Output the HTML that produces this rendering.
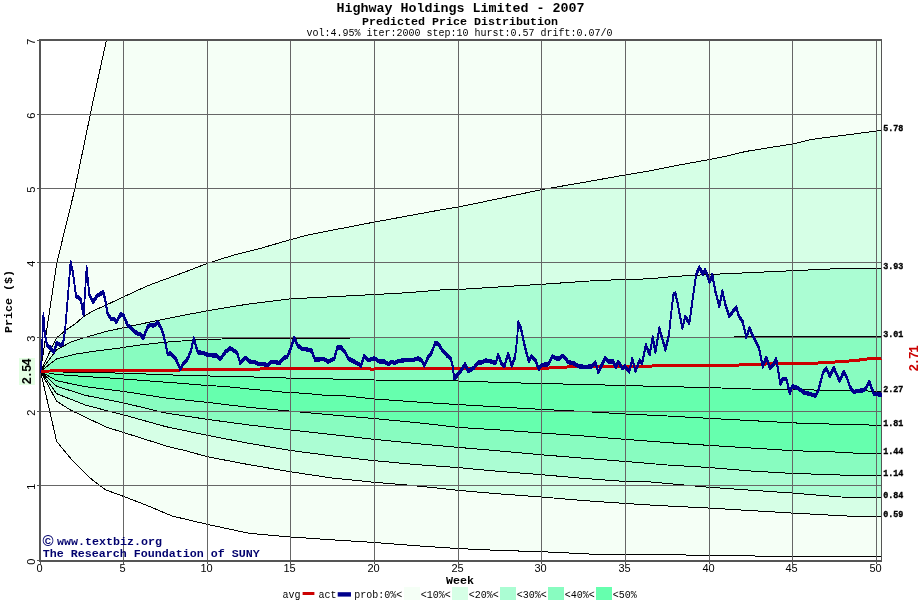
<!DOCTYPE html>
<html lang="en"><head><meta charset="utf-8"><title>Highway Holdings Limited - 2007</title>
<style>html,body{margin:0;padding:0;background:#fff}svg{display:block}.m{font-family:"Liberation Mono",monospace}.s{font-family:"Liberation Sans",sans-serif}</style></head><body>
<svg width="920" height="600" viewBox="0 0 920 600">
<rect width="920" height="600" fill="#fff"/>
<defs><clipPath id="c"><rect x="40" y="40" width="842" height="521"/></clipPath></defs>
<g clip-path="url(#c)">
<polygon points="40.5,371.3 56.7,263.3 75.0,188.3 93.3,100.0 106.5,40.0 111.0,19.0 111.0,30.0 890.0,30.0 890.0,130.4 882.0,130.4 830.0,137.0 812.0,139.4 792.8,143.9 746.0,151.4 725.0,156.5 709.4,159.5 680.0,164.9 650.0,170.8 625.6,174.9 580.0,183.0 541.6,189.6 499.0,198.6 458.5,207.0 440.0,210.0 408.0,215.9 374.7,222.0 333.3,230.0 306.7,235.3 290.7,239.6 261.3,248.1 234.7,254.8 207.5,263.3 185.0,272.0 155.0,283.0 147.0,286.0 124.0,296.6 105.0,305.6 95.0,310.0 85.0,315.5 75.0,324.0 66.0,330.0 56.6,337.8 40.5,371.3" fill="#f5fff6"/>
<polygon points="40.5,371.3 56.6,337.8 66.0,330.0 75.0,324.0 85.0,315.5 95.0,310.0 105.0,305.6 124.0,296.6 147.0,286.0 155.0,283.0 185.0,272.0 207.5,263.3 234.7,254.8 261.3,248.1 290.7,239.6 306.7,235.3 333.3,230.0 374.7,222.0 408.0,215.9 440.0,210.0 458.5,207.0 499.0,198.6 541.6,189.6 580.0,183.0 625.6,174.9 650.0,170.8 680.0,164.9 709.4,159.5 725.0,156.5 746.0,151.4 792.8,143.9 812.0,139.4 830.0,137.0 882.0,130.4 882.0,268.1 830.0,269.0 780.0,271.3 720.0,274.0 709.9,274.6 688.7,275.5 669.0,276.9 649.6,278.8 625.5,279.5 596.8,280.5 569.4,282.4 541.6,284.3 458.5,289.5 440.0,290.0 408.0,292.7 374.7,294.5 333.0,296.7 290.7,298.8 248.0,304.1 207.5,310.8 185.0,315.0 155.0,321.0 124.0,327.6 106.0,331.5 85.0,337.5 71.0,342.0 56.5,350.0 40.5,371.3" fill="#d6ffe6"/>
<polygon points="40.5,371.3 56.5,350.0 71.0,342.0 85.0,337.5 106.0,331.5 124.0,327.6 155.0,321.0 185.0,315.0 207.5,310.8 248.0,304.1 290.7,298.8 333.0,296.7 374.7,294.5 408.0,292.7 440.0,290.0 458.5,289.5 541.6,284.3 569.4,282.4 596.8,280.5 625.5,279.5 649.6,278.8 669.0,276.9 688.7,275.5 709.9,274.6 720.0,274.0 780.0,271.3 830.0,269.0 882.0,268.1 882.0,336.5 734.5,336.5 734.0,337.5 349.5,337.5 349.0,338.5 235.0,338.6 221.7,339.0 195.0,340.0 168.3,342.0 141.7,344.7 115.0,348.7 96.0,351.0 76.0,354.0 56.5,359.0 40.5,371.3" fill="#abfdd3"/>
<polygon points="40.5,371.3 56.5,359.0 76.0,354.0 96.0,351.0 115.0,348.7 141.7,344.7 168.3,342.0 195.0,340.0 221.7,339.0 235.0,338.6 349.0,338.5 349.5,337.5 734.0,337.5 734.5,336.5 882.0,336.5 882.0,391.3 834.7,390.3 793.0,389.7 751.0,389.0 709.4,387.6 667.4,386.6 625.6,385.6 583.6,384.4 541.6,383.6 500.0,382.4 458.5,381.0 416.6,380.4 374.6,380.0 332.6,379.0 299.0,378.5 267.0,377.3 232.0,376.5 183.0,375.4 149.0,374.1 115.0,373.0 56.7,371.9 40.5,371.3" fill="#88fcc0"/>
<polygon points="40.5,371.3 56.7,371.9 115.0,373.0 149.0,374.1 183.0,375.4 232.0,376.5 267.0,377.3 299.0,378.5 332.6,379.0 374.6,380.0 416.6,380.4 458.5,381.0 500.0,382.4 541.6,383.6 583.6,384.4 625.6,385.6 667.4,386.6 709.4,387.6 751.0,389.0 793.0,389.7 834.7,390.3 882.0,391.3 882.0,425.3 834.7,424.2 793.0,422.9 751.0,420.6 709.4,418.4 667.4,416.0 625.6,414.0 583.6,411.5 541.6,409.4 500.0,407.0 458.5,404.6 416.6,402.0 374.6,399.0 345.0,395.9 333.0,395.6 321.5,395.0 312.0,394.0 299.0,393.0 282.0,392.0 267.0,390.5 255.0,389.6 225.0,386.5 206.0,385.4 183.0,383.5 149.0,380.9 115.0,378.3 86.0,376.6 56.7,374.5 40.5,371.3" fill="#66ffae"/>
<polygon points="40.5,371.3 56.7,374.5 86.0,376.6 115.0,378.3 149.0,380.9 183.0,383.5 206.0,385.4 225.0,386.5 255.0,389.6 267.0,390.5 282.0,392.0 299.0,393.0 312.0,394.0 321.5,395.0 333.0,395.6 345.0,395.9 374.6,399.0 416.6,402.0 458.5,404.6 500.0,407.0 541.6,409.4 583.6,411.5 625.6,414.0 667.4,416.0 709.4,418.4 751.0,420.6 793.0,422.9 834.7,424.2 882.0,425.3 882.0,453.4 860.0,453.4 834.7,452.0 793.0,450.7 751.0,448.0 709.4,445.4 667.4,442.6 625.6,439.4 583.6,436.0 541.6,433.0 500.0,430.0 458.5,427.4 416.6,422.6 374.6,418.6 332.6,415.0 291.0,411.2 249.2,407.4 207.6,402.4 165.6,398.0 124.0,391.5 86.0,386.8 56.7,380.8 40.5,371.3" fill="#66ffae"/>
<polygon points="40.5,371.3 56.7,380.8 86.0,386.8 124.0,391.5 165.6,398.0 207.6,402.4 249.2,407.4 291.0,411.2 332.6,415.0 374.6,418.6 416.6,422.6 458.5,427.4 500.0,430.0 541.6,433.0 583.6,436.0 625.6,439.4 667.4,442.6 709.4,445.4 751.0,448.0 793.0,450.7 834.7,452.0 860.0,453.4 882.0,453.4 882.0,475.8 852.0,475.8 834.7,474.7 793.0,473.5 751.0,471.0 709.4,467.5 667.4,465.0 625.6,461.5 583.6,458.2 541.6,454.8 500.0,451.0 458.5,447.4 416.6,443.6 374.6,439.4 332.6,434.6 291.0,430.0 249.2,425.0 207.6,419.4 165.6,413.0 124.0,403.0 86.0,395.5 56.7,386.3 40.5,371.3" fill="#88fcc0"/>
<polygon points="40.5,371.3 56.7,386.3 86.0,395.5 124.0,403.0 165.6,413.0 207.6,419.4 249.2,425.0 291.0,430.0 332.6,434.6 374.6,439.4 416.6,443.6 458.5,447.4 500.0,451.0 541.6,454.8 583.6,458.2 625.6,461.5 667.4,465.0 709.4,467.5 751.0,471.0 793.0,473.5 834.7,474.7 852.0,475.8 882.0,475.8 882.0,497.5 840.8,497.0 793.0,493.1 709.6,487.3 650.0,481.9 625.6,481.5 583.6,478.4 541.6,474.7 500.0,471.5 458.5,467.6 416.6,464.6 374.6,460.7 332.6,456.0 291.0,450.5 249.2,443.4 207.6,435.4 165.6,426.6 124.0,415.0 86.0,405.3 56.7,393.7 40.5,371.3" fill="#abfdd3"/>
<polygon points="40.5,371.3 56.7,393.7 86.0,405.3 124.0,415.0 165.6,426.6 207.6,435.4 249.2,443.4 291.0,450.5 332.6,456.0 374.6,460.7 416.6,464.6 458.5,467.6 500.0,471.5 541.6,474.7 583.6,478.4 625.6,481.5 650.0,481.9 709.6,487.3 793.0,493.1 840.8,497.0 882.0,497.5 882.0,516.3 852.5,516.3 793.0,513.1 709.6,508.1 660.0,505.6 625.6,503.5 581.7,500.4 541.6,497.0 498.3,493.8 458.6,490.4 440.0,488.3 406.0,484.9 374.3,482.3 330.4,477.8 290.8,471.8 249.6,464.8 207.6,456.8 186.0,450.8 165.6,446.0 152.7,441.7 123.5,432.5 106.0,427.0 71.0,410.3 56.7,401.3 40.5,371.3" fill="#d6ffe6"/>
<polygon points="40.5,371.3 56.7,401.3 71.0,410.3 106.0,427.0 123.5,432.5 152.7,441.7 165.6,446.0 186.0,450.8 207.6,456.8 249.6,464.8 290.8,471.8 330.4,477.8 374.3,482.3 406.0,484.9 440.0,488.3 458.6,490.4 498.3,493.8 541.6,497.0 581.7,500.4 625.6,503.5 660.0,505.6 709.6,508.1 793.0,513.1 852.5,516.3 882.0,516.3 882.0,556.5 767.0,556.2 701.0,555.2 660.0,554.7 602.6,554.7 581.7,553.6 541.6,551.7 498.3,550.4 458.6,548.6 420.0,546.0 374.3,542.5 330.4,539.7 290.8,537.0 249.6,533.4 207.6,524.4 172.0,516.0 146.0,505.0 123.6,496.4 106.0,490.0 90.0,478.0 72.0,460.0 56.7,441.5 40.5,371.3" fill="#f5fff6"/>
<polyline points="40.5,371.3 56.7,263.3 75.0,188.3 93.3,100.0 106.5,40.0 111.0,19.0" fill="none" stroke="#000" stroke-width="1" shape-rendering="crispEdges"/>
<polyline points="40.5,371.3 56.6,337.8 66.0,330.0 75.0,324.0 85.0,315.5 95.0,310.0 105.0,305.6 124.0,296.6 147.0,286.0 155.0,283.0 185.0,272.0 207.5,263.3 234.7,254.8 261.3,248.1 290.7,239.6 306.7,235.3 333.3,230.0 374.7,222.0 408.0,215.9 440.0,210.0 458.5,207.0 499.0,198.6 541.6,189.6 580.0,183.0 625.6,174.9 650.0,170.8 680.0,164.9 709.4,159.5 725.0,156.5 746.0,151.4 792.8,143.9 812.0,139.4 830.0,137.0 882.0,130.4" fill="none" stroke="#000" stroke-width="1" shape-rendering="crispEdges"/>
<polyline points="40.5,371.3 56.5,350.0 71.0,342.0 85.0,337.5 106.0,331.5 124.0,327.6 155.0,321.0 185.0,315.0 207.5,310.8 248.0,304.1 290.7,298.8 333.0,296.7 374.7,294.5 408.0,292.7 440.0,290.0 458.5,289.5 541.6,284.3 569.4,282.4 596.8,280.5 625.5,279.5 649.6,278.8 669.0,276.9 688.7,275.5 709.9,274.6 720.0,274.0 780.0,271.3 830.0,269.0 882.0,268.1" fill="none" stroke="#000" stroke-width="1" shape-rendering="crispEdges"/>
<polyline points="40.5,371.3 56.5,359.0 76.0,354.0 96.0,351.0 115.0,348.7 141.7,344.7 168.3,342.0 195.0,340.0 221.7,339.0 235.0,338.6 349.0,338.5 349.5,337.5 734.0,337.5 734.5,336.5 882.0,336.5" fill="none" stroke="#000" stroke-width="1" shape-rendering="crispEdges"/>
<polyline points="40.5,371.3 56.7,371.9 115.0,373.0 149.0,374.1 183.0,375.4 232.0,376.5 267.0,377.3 299.0,378.5 332.6,379.0 374.6,380.0 416.6,380.4 458.5,381.0 500.0,382.4 541.6,383.6 583.6,384.4 625.6,385.6 667.4,386.6 709.4,387.6 751.0,389.0 793.0,389.7 834.7,390.3 882.0,391.3" fill="none" stroke="#000" stroke-width="1" shape-rendering="crispEdges"/>
<polyline points="40.5,371.3 56.7,374.5 86.0,376.6 115.0,378.3 149.0,380.9 183.0,383.5 206.0,385.4 225.0,386.5 255.0,389.6 267.0,390.5 282.0,392.0 299.0,393.0 312.0,394.0 321.5,395.0 333.0,395.6 345.0,395.9 374.6,399.0 416.6,402.0 458.5,404.6 500.0,407.0 541.6,409.4 583.6,411.5 625.6,414.0 667.4,416.0 709.4,418.4 751.0,420.6 793.0,422.9 834.7,424.2 882.0,425.3" fill="none" stroke="#000" stroke-width="1" shape-rendering="crispEdges"/>
<polyline points="40.5,371.3 56.7,380.8 86.0,386.8 124.0,391.5 165.6,398.0 207.6,402.4 249.2,407.4 291.0,411.2 332.6,415.0 374.6,418.6 416.6,422.6 458.5,427.4 500.0,430.0 541.6,433.0 583.6,436.0 625.6,439.4 667.4,442.6 709.4,445.4 751.0,448.0 793.0,450.7 834.7,452.0 860.0,453.4 882.0,453.4" fill="none" stroke="#000" stroke-width="1" shape-rendering="crispEdges"/>
<polyline points="40.5,371.3 56.7,386.3 86.0,395.5 124.0,403.0 165.6,413.0 207.6,419.4 249.2,425.0 291.0,430.0 332.6,434.6 374.6,439.4 416.6,443.6 458.5,447.4 500.0,451.0 541.6,454.8 583.6,458.2 625.6,461.5 667.4,465.0 709.4,467.5 751.0,471.0 793.0,473.5 834.7,474.7 852.0,475.8 882.0,475.8" fill="none" stroke="#000" stroke-width="1" shape-rendering="crispEdges"/>
<polyline points="40.5,371.3 56.7,393.7 86.0,405.3 124.0,415.0 165.6,426.6 207.6,435.4 249.2,443.4 291.0,450.5 332.6,456.0 374.6,460.7 416.6,464.6 458.5,467.6 500.0,471.5 541.6,474.7 583.6,478.4 625.6,481.5 650.0,481.9 709.6,487.3 793.0,493.1 840.8,497.0 882.0,497.5" fill="none" stroke="#000" stroke-width="1" shape-rendering="crispEdges"/>
<polyline points="40.5,371.3 56.7,401.3 71.0,410.3 106.0,427.0 123.5,432.5 152.7,441.7 165.6,446.0 186.0,450.8 207.6,456.8 249.6,464.8 290.8,471.8 330.4,477.8 374.3,482.3 406.0,484.9 440.0,488.3 458.6,490.4 498.3,493.8 541.6,497.0 581.7,500.4 625.6,503.5 660.0,505.6 709.6,508.1 793.0,513.1 852.5,516.3 882.0,516.3" fill="none" stroke="#000" stroke-width="1" shape-rendering="crispEdges"/>
<polyline points="40.5,371.3 56.7,441.5 72.0,460.0 90.0,478.0 106.0,490.0 123.6,496.4 146.0,505.0 172.0,516.0 207.6,524.4 249.6,533.4 290.8,537.0 330.4,539.7 374.3,542.5 420.0,546.0 458.6,548.6 498.3,550.4 541.6,551.7 581.7,553.6 602.6,554.7 660.0,554.7 701.0,555.2 767.0,556.2 882.0,556.5" fill="none" stroke="#000" stroke-width="1" shape-rendering="crispEdges"/>
</g>
<g fill="#666"><rect x="123" y="40" width="1" height="521"/><rect x="207" y="40" width="1" height="521"/><rect x="290" y="40" width="1" height="521"/><rect x="374" y="40" width="1" height="521"/><rect x="458" y="40" width="1" height="521"/><rect x="541" y="40" width="1" height="521"/><rect x="625" y="40" width="1" height="521"/><rect x="709" y="40" width="1" height="521"/><rect x="792" y="40" width="1" height="521"/><rect x="876" y="40" width="1" height="521"/><rect x="40" y="114" width="842" height="1"/><rect x="40" y="188" width="842" height="1"/><rect x="40" y="262" width="842" height="1"/><rect x="40" y="337" width="842" height="1"/><rect x="40" y="411" width="842" height="1"/><rect x="40" y="485" width="842" height="1"/></g>
<g fill="#555"><rect x="39" y="39" width="843" height="2"/><rect x="39" y="39" width="2" height="523"/><rect x="39" y="560" width="843" height="2"/><rect x="881" y="39" width="1" height="523"/></g>
<g fill="#555"><rect x="37" y="40" width="2" height="1"/><rect x="37" y="114" width="2" height="1"/><rect x="37" y="188" width="2" height="1"/><rect x="37" y="262" width="2" height="1"/><rect x="37" y="337" width="2" height="1"/><rect x="37" y="411" width="2" height="1"/><rect x="37" y="485" width="2" height="1"/><rect x="37" y="560" width="2" height="1"/><rect x="40" y="562" width="1" height="2"/><rect x="123" y="562" width="1" height="2"/><rect x="207" y="562" width="1" height="2"/><rect x="290" y="562" width="1" height="2"/><rect x="374" y="562" width="1" height="2"/><rect x="458" y="562" width="1" height="2"/><rect x="541" y="562" width="1" height="2"/><rect x="625" y="562" width="1" height="2"/><rect x="709" y="562" width="1" height="2"/><rect x="792" y="562" width="1" height="2"/><rect x="876" y="562" width="1" height="2"/></g>
<polyline points="40.5,371.3 65.0,370.5 150.0,370.1 215.0,369.9 222.0,369.2 282.0,368.9 290.0,368.2 365.0,368.3 372.0,369.2 379.0,368.4 415.0,368.5 498.0,368.9 503.0,368.2 548.0,368.1 553.0,367.5 566.0,367.3 570.0,366.4 650.0,366.2 655.0,365.7 700.0,365.6 735.0,365.3 750.0,364.2 790.0,363.7 815.0,363.2 835.0,362.0 855.0,360.6 869.0,358.8 881.5,358.4" fill="none" stroke="#cc0000" stroke-width="3" stroke-linejoin="round" shape-rendering="crispEdges"/>
<g fill="none" stroke="#00008c" stroke-width="1.6" stroke-linejoin="round" stroke-linecap="round" shape-rendering="crispEdges">
<polyline points="40.5,369.9 41.5,358.6 43.4,312.6 45.0,333.6 47.0,343.6 50.6,346.6 54.0,350.6 56.6,341.6 60.0,343.6 63.0,342.6 65.0,329.6 68.0,293.6 70.6,260.6 73.0,271.6 76.0,294.6 80.6,297.6 83.6,313.6 86.6,266.2 89.4,293.6 93.0,300.6 97.0,294.6 103.4,290.6 105.4,299.6 107.4,311.6 111.0,317.6 114.0,317.6 116.4,320.6 121.0,312.3 123.7,314.6 127.7,323.9 137.7,332.6 140.3,332.6 143.3,336.9 147.7,325.3 150.7,323.6 153.7,324.3 157.7,320.9 161.0,326.6 163.7,333.9 167.7,352.9 170.3,351.6 175.7,357.3 180.3,367.6 183.0,362.6 187.7,357.3 191.0,349.3 193.7,336.9 197.7,350.9 203.0,351.6 208.3,353.6 217.0,354.3 220.3,357.6 225.7,350.1 230.3,346.9 237.0,351.3 240.3,361.6 245.0,356.3 250.3,360.3 253.7,360.3 258.3,362.3 264.3,362.9 267.7,363.6 271.0,360.9 275.0,360.6 279.7,361.6 283.7,356.3 287.0,355.6 290.3,348.6 294.3,336.3 297.7,343.9 301.7,347.6 305.0,347.6 311.7,349.3 315.0,358.3 320.3,357.9 324.3,357.6 327.7,360.3 334.3,357.3 337.3,346.3 341.0,345.9 345.0,350.6 348.3,357.3 355.0,360.6 361.0,364.3 364.3,354.3 367.7,358.9 374.3,356.9 379.0,359.9 384.3,359.9 388.3,362.9 391.7,360.3 394.3,361.6 399.0,359.6 403.7,358.9 407.7,358.3 412.3,358.9 418.3,356.9 421.7,359.3 424.3,364.3 428.3,355.3 431.7,351.3 435.0,341.9 438.3,342.3 443.0,349.9 447.0,354.1 451.0,357.6 452.6,364.6 454.3,376.9 459.7,371.3 465.0,362.9 468.3,369.6 473.7,366.6 478.3,360.9 481.7,360.9 485.7,358.9 488.3,359.6 491.7,360.3 495.7,361.6 498.3,353.6 501.7,362.6 504.3,364.9 508.3,352.3 511.7,364.3 515.0,355.9 517.0,339.3 518.3,320.9 521.0,327.3 525.0,345.9 528.7,359.6 531.7,354.9 535.7,359.3 538.7,367.6 541.7,363.6 548.3,362.9 552.3,354.9 555.7,356.9 559.0,357.3 563.0,354.3 568.3,360.6 573.7,361.9 579.0,364.9 585.7,365.6 592.3,364.9 595.4,360.9 598.3,370.9 605.0,356.9 608.3,359.9 613.0,359.9 615.7,365.6 618.3,360.3 622.3,366.9 625.0,364.9 629.3,370.3 632.3,357.6 635.4,369.6 639.7,358.9 642.3,361.6 645.7,343.6 649.7,352.9 652.7,335.6 655.4,350.9 659.4,326.9 665.4,348.3 669.0,333.3 671.3,310.9 673.3,293.6 675.3,291.9 677.3,300.3 682.4,326.6 685.3,315.3 689.3,321.9 692.7,297.6 696.0,273.6 699.3,265.9 702.7,272.6 705.3,268.6 709.6,280.6 712.3,273.3 715.3,289.6 719.3,304.6 722.4,289.9 725.3,302.9 729.3,314.6 736.4,305.9 738.7,314.3 742.7,320.3 746.3,335.6 749.4,326.9 753.7,335.9 759.0,346.6 762.6,364.9 766.3,356.3 770.0,366.9 773.7,362.6 776.3,357.6 780.3,382.3 783.0,377.3 786.3,377.3 789.7,391.6 792.3,384.9 797.7,386.6 804.3,391.3 809.7,392.6 815.7,394.3 818.3,389.3 823.0,371.3 826.3,366.9 829.7,374.6 833.8,366.4 839.6,379.6 843.7,370.4 847.2,377.1 850.2,386.1 853.6,390.6 856.5,389.8 863.5,388.9 866.4,385.8 869.4,380.4 871.7,387.0 874.0,392.4 877.0,392.6 881.0,393.4"/>
<polyline points="40.5,370.9 41.5,359.6 43.4,313.6 45.0,334.6 47.0,344.6 50.6,347.6 54.0,351.6 56.6,342.6 60.0,344.6 63.0,343.6 65.0,330.6 68.0,294.6 70.6,261.6 73.0,272.6 76.0,295.6 80.6,298.6 83.6,314.6 86.6,267.2 89.4,294.6 93.0,301.6 97.0,295.6 103.4,291.6 105.4,300.6 107.4,312.6 111.0,318.6 114.0,318.6 116.4,321.6 121.0,313.2 123.7,315.6 127.7,324.9 137.7,333.6 140.3,333.6 143.3,337.9 147.7,326.2 150.7,324.6 153.7,325.2 157.7,321.9 161.0,327.6 163.7,334.9 167.7,353.9 170.3,352.6 175.7,358.2 180.3,368.6 183.0,363.6 187.7,358.2 191.0,350.2 193.7,337.9 197.7,351.9 203.0,352.6 208.3,354.6 217.0,355.2 220.3,358.6 225.7,351.1 230.3,347.9 237.0,352.2 240.3,362.6 245.0,357.2 250.3,361.2 253.7,361.2 258.3,363.2 264.3,363.9 267.7,364.6 271.0,361.9 275.0,361.6 279.7,362.6 283.7,357.2 287.0,356.6 290.3,349.6 294.3,337.2 297.7,344.9 301.7,348.6 305.0,348.6 311.7,350.2 315.0,359.2 320.3,358.9 324.3,358.6 327.7,361.2 334.3,358.2 337.3,347.2 341.0,346.9 345.0,351.6 348.3,358.2 355.0,361.6 361.0,365.2 364.3,355.2 367.7,359.9 374.3,357.9 379.0,360.9 384.3,360.9 388.3,363.9 391.7,361.2 394.3,362.6 399.0,360.6 403.7,359.9 407.7,359.2 412.3,359.9 418.3,357.9 421.7,360.2 424.3,365.2 428.3,356.2 431.7,352.2 435.0,342.9 438.3,343.2 443.0,350.9 447.0,355.1 451.0,358.6 452.6,365.6 454.3,377.9 459.7,372.2 465.0,363.9 468.3,370.6 473.7,367.6 478.3,361.9 481.7,361.9 485.7,359.9 488.3,360.6 491.7,361.2 495.7,362.6 498.3,354.6 501.7,363.6 504.3,365.9 508.3,353.2 511.7,365.2 515.0,356.9 517.0,340.2 518.3,321.9 521.0,328.2 525.0,346.9 528.7,360.6 531.7,355.9 535.7,360.2 538.7,368.6 541.7,364.6 548.3,363.9 552.3,355.9 555.7,357.9 559.0,358.2 563.0,355.2 568.3,361.6 573.7,362.9 579.0,365.9 585.7,366.6 592.3,365.9 595.4,361.9 598.3,371.9 605.0,357.9 608.3,360.9 613.0,360.9 615.7,366.6 618.3,361.2 622.3,367.9 625.0,365.9 629.3,371.2 632.3,358.6 635.4,370.6 639.7,359.9 642.3,362.6 645.7,344.6 649.7,353.9 652.7,336.6 655.4,351.9 659.4,327.9 665.4,349.2 669.0,334.2 671.3,311.9 673.3,294.6 675.3,292.9 677.3,301.2 682.4,327.6 685.3,316.2 689.3,322.9 692.7,298.6 696.0,274.6 699.3,266.9 702.7,273.6 705.3,269.6 709.6,281.6 712.3,274.2 715.3,290.6 719.3,305.6 722.4,290.9 725.3,303.9 729.3,315.6 736.4,306.9 738.7,315.2 742.7,321.2 746.3,336.6 749.4,327.9 753.7,336.9 759.0,347.6 762.6,365.9 766.3,357.2 770.0,367.9 773.7,363.6 776.3,358.6 780.3,383.2 783.0,378.2 786.3,378.2 789.7,392.6 792.3,385.9 797.7,387.6 804.3,392.2 809.7,393.6 815.7,395.2 818.3,390.2 823.0,372.2 826.3,367.9 829.7,375.6 833.8,367.4 839.6,380.6 843.7,371.4 847.2,378.1 850.2,387.1 853.6,391.6 856.5,390.7 863.5,389.9 866.4,386.8 869.4,381.4 871.7,387.9 874.0,393.4 877.0,393.6 881.0,394.4"/>
<polyline points="40.5,371.8 41.5,360.4 43.4,314.4 45.0,335.4 47.0,345.4 50.6,348.4 54.0,352.4 56.6,343.4 60.0,345.4 63.0,344.4 65.0,331.4 68.0,295.4 70.6,262.4 73.0,273.4 76.0,296.4 80.6,299.4 83.6,315.4 86.6,268.1 89.4,295.4 93.0,302.4 97.0,296.4 103.4,292.4 105.4,301.4 107.4,313.4 111.0,319.4 114.0,319.4 116.4,322.4 121.0,314.1 123.7,316.4 127.7,325.8 137.7,334.4 140.3,334.4 143.3,338.8 147.7,327.1 150.7,325.4 153.7,326.1 157.7,322.8 161.0,328.4 163.7,335.8 167.7,354.8 170.3,353.4 175.7,359.1 180.3,369.4 183.0,364.4 187.7,359.1 191.0,351.1 193.7,338.8 197.7,352.8 203.0,353.4 208.3,355.4 217.0,356.1 220.3,359.4 225.7,351.9 230.3,348.8 237.0,353.1 240.3,363.4 245.0,358.1 250.3,362.1 253.7,362.1 258.3,364.1 264.3,364.8 267.7,365.4 271.0,362.8 275.0,362.4 279.7,363.4 283.7,358.1 287.0,357.4 290.3,350.4 294.3,338.1 297.7,345.8 301.7,349.4 305.0,349.4 311.7,351.1 315.0,360.1 320.3,359.8 324.3,359.4 327.7,362.1 334.3,359.1 337.3,348.1 341.0,347.8 345.0,352.4 348.3,359.1 355.0,362.4 361.0,366.1 364.3,356.1 367.7,360.8 374.3,358.8 379.0,361.8 384.3,361.8 388.3,364.8 391.7,362.1 394.3,363.4 399.0,361.4 403.7,360.8 407.7,360.1 412.3,360.8 418.3,358.8 421.7,361.1 424.3,366.1 428.3,357.1 431.7,353.1 435.0,343.8 438.3,344.1 443.0,351.8 447.0,355.9 451.0,359.4 452.6,366.4 454.3,378.8 459.7,373.1 465.0,364.8 468.3,371.4 473.7,368.4 478.3,362.8 481.7,362.8 485.7,360.8 488.3,361.4 491.7,362.1 495.7,363.4 498.3,355.4 501.7,364.4 504.3,366.8 508.3,354.1 511.7,366.1 515.0,357.8 517.0,341.1 518.3,322.8 521.0,329.1 525.0,347.8 528.7,361.4 531.7,356.8 535.7,361.1 538.7,369.4 541.7,365.4 548.3,364.8 552.3,356.8 555.7,358.8 559.0,359.1 563.0,356.1 568.3,362.4 573.7,363.8 579.0,366.8 585.7,367.4 592.3,366.8 595.4,362.8 598.3,372.8 605.0,358.8 608.3,361.8 613.0,361.8 615.7,367.4 618.3,362.1 622.3,368.8 625.0,366.8 629.3,372.1 632.3,359.4 635.4,371.4 639.7,360.8 642.3,363.4 645.7,345.4 649.7,354.8 652.7,337.4 655.4,352.8 659.4,328.8 665.4,350.1 669.0,335.1 671.3,312.8 673.3,295.4 675.3,293.8 677.3,302.1 682.4,328.4 685.3,317.1 689.3,323.8 692.7,299.4 696.0,275.4 699.3,267.8 702.7,274.4 705.3,270.4 709.6,282.4 712.3,275.1 715.3,291.4 719.3,306.4 722.4,291.8 725.3,304.8 729.3,316.4 736.4,307.8 738.7,316.1 742.7,322.1 746.3,337.4 749.4,328.8 753.7,337.8 759.0,348.4 762.6,366.8 766.3,358.1 770.0,368.8 773.7,364.4 776.3,359.4 780.3,384.1 783.0,379.1 786.3,379.1 789.7,393.4 792.3,386.8 797.7,388.4 804.3,393.1 809.7,394.4 815.7,396.1 818.3,391.1 823.0,373.1 826.3,368.8 829.7,376.4 833.8,368.2 839.6,381.4 843.7,372.2 847.2,378.9 850.2,387.9 853.6,392.4 856.5,391.6 863.5,390.8 866.4,387.6 869.4,382.2 871.7,388.8 874.0,394.2 877.0,394.4 881.0,395.2"/>
<polyline points="40.5,372.7 41.5,361.4 43.4,315.4 45.0,336.4 47.0,346.4 50.6,349.4 54.0,353.4 56.6,344.4 60.0,346.4 63.0,345.4 65.0,332.4 68.0,296.4 70.6,263.4 73.0,274.4 76.0,297.4 80.6,300.4 83.6,316.4 86.6,269.0 89.4,296.4 93.0,303.4 97.0,297.4 103.4,293.4 105.4,302.4 107.4,314.4 111.0,320.4 114.0,320.4 116.4,323.4 121.0,315.1 123.7,317.4 127.7,326.7 137.7,335.4 140.3,335.4 143.3,339.7 147.7,328.1 150.7,326.4 153.7,327.1 157.7,323.7 161.0,329.4 163.7,336.7 167.7,355.7 170.3,354.4 175.7,360.1 180.3,370.4 183.0,365.4 187.7,360.1 191.0,352.1 193.7,339.7 197.7,353.7 203.0,354.4 208.3,356.4 217.0,357.1 220.3,360.4 225.7,352.9 230.3,349.7 237.0,354.1 240.3,364.4 245.0,359.1 250.3,363.1 253.7,363.1 258.3,365.1 264.3,365.7 267.7,366.4 271.0,363.7 275.0,363.4 279.7,364.4 283.7,359.1 287.0,358.4 290.3,351.4 294.3,339.1 297.7,346.7 301.7,350.4 305.0,350.4 311.7,352.1 315.0,361.1 320.3,360.7 324.3,360.4 327.7,363.1 334.3,360.1 337.3,349.1 341.0,348.7 345.0,353.4 348.3,360.1 355.0,363.4 361.0,367.1 364.3,357.1 367.7,361.7 374.3,359.7 379.0,362.7 384.3,362.7 388.3,365.7 391.7,363.1 394.3,364.4 399.0,362.4 403.7,361.7 407.7,361.1 412.3,361.7 418.3,359.7 421.7,362.1 424.3,367.1 428.3,358.1 431.7,354.1 435.0,344.7 438.3,345.1 443.0,352.7 447.0,356.9 451.0,360.4 452.6,367.4 454.3,379.7 459.7,374.1 465.0,365.7 468.3,372.4 473.7,369.4 478.3,363.7 481.7,363.7 485.7,361.7 488.3,362.4 491.7,363.1 495.7,364.4 498.3,356.4 501.7,365.4 504.3,367.7 508.3,355.1 511.7,367.1 515.0,358.7 517.0,342.1 518.3,323.7 521.0,330.1 525.0,348.7 528.7,362.4 531.7,357.7 535.7,362.1 538.7,370.4 541.7,366.4 548.3,365.7 552.3,357.7 555.7,359.7 559.0,360.1 563.0,357.1 568.3,363.4 573.7,364.7 579.0,367.7 585.7,368.4 592.3,367.7 595.4,363.7 598.3,373.7 605.0,359.7 608.3,362.7 613.0,362.7 615.7,368.4 618.3,363.1 622.3,369.7 625.0,367.7 629.3,373.1 632.3,360.4 635.4,372.4 639.7,361.7 642.3,364.4 645.7,346.4 649.7,355.7 652.7,338.4 655.4,353.7 659.4,329.7 665.4,351.1 669.0,336.1 671.3,313.7 673.3,296.4 675.3,294.7 677.3,303.1 682.4,329.4 685.3,318.1 689.3,324.7 692.7,300.4 696.0,276.4 699.3,268.7 702.7,275.4 705.3,271.4 709.6,283.4 712.3,276.1 715.3,292.4 719.3,307.4 722.4,292.7 725.3,305.7 729.3,317.4 736.4,308.7 738.7,317.1 742.7,323.1 746.3,338.4 749.4,329.7 753.7,338.7 759.0,349.4 762.6,367.7 766.3,359.1 770.0,369.7 773.7,365.4 776.3,360.4 780.3,385.1 783.0,380.1 786.3,380.1 789.7,394.4 792.3,387.7 797.7,389.4 804.3,394.1 809.7,395.4 815.7,397.1 818.3,392.1 823.0,374.1 826.3,369.7 829.7,377.4 833.8,369.2 839.6,382.4 843.7,373.2 847.2,379.9 850.2,388.9 853.6,393.4 856.5,392.5 863.5,391.7 866.4,388.6 869.4,383.2 871.7,389.8 874.0,395.2 877.0,395.4 881.0,396.2"/>
</g>
<g opacity="0.999">
<text class="m" x="460.5" y="11.5" font-size="13.33" font-weight="bold" text-anchor="middle">Highway Holdings Limited - 2007</text>
<text class="m" x="460" y="25" font-size="11.67" font-weight="bold" text-anchor="middle">Predicted Price Distribution</text>
<text class="m" x="459.5" y="36.2" font-size="10" text-anchor="middle">vol:4.95% iter:2000 step:10 hurst:0.57 drift:0.07/0</text>
<text class="s" x="39.5" y="572" font-size="11" text-anchor="middle">0</text>
<text class="s" x="122.5" y="572" font-size="11" text-anchor="middle">5</text>
<text class="s" x="206.5" y="572" font-size="11" text-anchor="middle">10</text>
<text class="s" x="289.5" y="572" font-size="11" text-anchor="middle">15</text>
<text class="s" x="373.5" y="572" font-size="11" text-anchor="middle">20</text>
<text class="s" x="457.5" y="572" font-size="11" text-anchor="middle">25</text>
<text class="s" x="540.5" y="572" font-size="11" text-anchor="middle">30</text>
<text class="s" x="624.5" y="572" font-size="11" text-anchor="middle">35</text>
<text class="s" x="708.5" y="572" font-size="11" text-anchor="middle">40</text>
<text class="s" x="791.5" y="572" font-size="11" text-anchor="middle">45</text>
<text class="s" x="875.5" y="572" font-size="11" text-anchor="middle">50</text>
<text class="s" transform="translate(35 561.8) rotate(-90)" font-size="11" text-anchor="middle">0</text>
<text class="s" transform="translate(35 486.8) rotate(-90)" font-size="11" text-anchor="middle">1</text>
<text class="s" transform="translate(35 412.8) rotate(-90)" font-size="11" text-anchor="middle">2</text>
<text class="s" transform="translate(35 338.8) rotate(-90)" font-size="11" text-anchor="middle">3</text>
<text class="s" transform="translate(35 263.8) rotate(-90)" font-size="11" text-anchor="middle">4</text>
<text class="s" transform="translate(35 189.8) rotate(-90)" font-size="11" text-anchor="middle">5</text>
<text class="s" transform="translate(35 115.8) rotate(-90)" font-size="11" text-anchor="middle">6</text>
<text class="s" transform="translate(35 41.8) rotate(-90)" font-size="11" text-anchor="middle">7</text>
<text class="m" x="460" y="584" font-size="11.67" font-weight="bold" text-anchor="middle">Week</text>
<text class="m" transform="translate(12.3 301.5) rotate(-90)" font-size="11.67" font-weight="bold" text-anchor="middle">Price ($)</text>
<rect x="19" y="358" width="16" height="27" fill="#e4ffe4"/>
<text class="m" transform="translate(31.3 372) rotate(-90)" font-size="12.5" letter-spacing="-1.3" font-weight="bold" text-anchor="middle">2.54</text>
<text class="m" transform="translate(918.2 359) rotate(-90)" font-size="12.5" letter-spacing="-1.3" font-weight="bold" text-anchor="middle" fill="#cc0000">2.71</text>
<text class="m" x="883.3" y="131.0" font-size="8.4" font-weight="bold" stroke="#000" stroke-width="0.35">5.78</text>
<text class="m" x="883.3" y="268.7" font-size="8.4" font-weight="bold" stroke="#000" stroke-width="0.35">3.93</text>
<text class="m" x="883.3" y="337.1" font-size="8.4" font-weight="bold" stroke="#000" stroke-width="0.35">3.01</text>
<text class="m" x="883.3" y="391.9" font-size="8.4" font-weight="bold" stroke="#000" stroke-width="0.35">2.27</text>
<text class="m" x="883.3" y="425.9" font-size="8.4" font-weight="bold" stroke="#000" stroke-width="0.35">1.81</text>
<text class="m" x="883.3" y="454.0" font-size="8.4" font-weight="bold" stroke="#000" stroke-width="0.35">1.44</text>
<text class="m" x="883.3" y="476.4" font-size="8.4" font-weight="bold" stroke="#000" stroke-width="0.35">1.14</text>
<text class="m" x="883.3" y="498.1" font-size="8.4" font-weight="bold" stroke="#000" stroke-width="0.35">0.84</text>
<text class="m" x="883.3" y="516.9" font-size="8.4" font-weight="bold" stroke="#000" stroke-width="0.35">0.59</text>
<g fill="#00006e" font-weight="bold" class="m"><text x="42.6" y="546" font-size="15" class="s">©</text><text x="57" y="545" font-size="11.67">www.textbiz.org</text><text x="42.8" y="557" font-size="11.67">The Research Foundation of SUNY</text></g>
<g class="m" font-size="10">
<text x="282.4" y="597.8">avg</text><rect x="302.6" y="592" width="11.8" height="3" fill="#cc0000"/>
<text x="318.4" y="597.8">act</text><rect x="337.7" y="592.2" width="13.3" height="4.4" fill="#00008c"/>
<text x="354.3" y="597.8">prob:0%&lt;</text>
<rect x="404" y="587" width="16" height="13" fill="#f5fff6"/>
<text x="420.8" y="597.8">&lt;10%&lt;</text>
<rect x="452" y="587" width="16" height="13" fill="#d6ffe6"/>
<text x="468.8" y="597.8">&lt;20%&lt;</text>
<rect x="500" y="587" width="16" height="13" fill="#abfdd3"/>
<text x="516.8" y="597.8">&lt;30%&lt;</text>
<rect x="548" y="587" width="16" height="13" fill="#88fcc0"/>
<text x="564.8" y="597.8">&lt;40%&lt;</text>
<rect x="596" y="587" width="16" height="13" fill="#66ffae"/>
<text x="612.8" y="597.8">&lt;50%</text>
</g>
</g>
</svg></body></html>
